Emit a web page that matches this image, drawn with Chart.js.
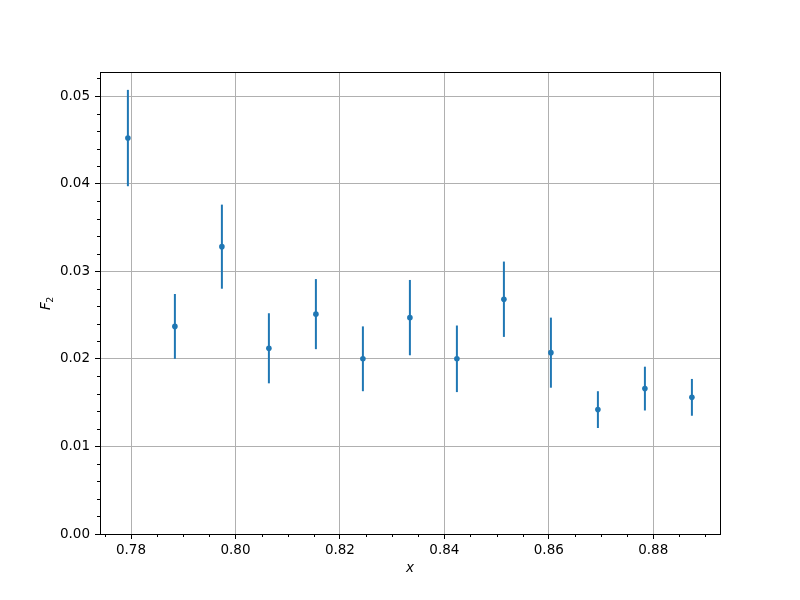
<!DOCTYPE html>
<html>
<head>
<meta charset="utf-8">
<script src="https://cdn.jsdelivr.net/npm/chart.js@4.4.1/dist/chart.umd.min.js"></script>
<style>
  body { margin: 0; background: #fff; }
  #wrap { width: 800px; height: 600px; }
</style>
</head>
<body>
<div id="wrap"><canvas id="f2-chart" width="800" height="600"></canvas></div>
<script>
// F2 vs x with vertical error bars
const xValues = [0.7794, 0.7884, 0.7974, 0.8064, 0.8154, 0.8244, 0.8334, 0.8424, 0.8514, 0.8604, 0.8694, 0.8784, 0.8874];
const f2Values = [0.0452, 0.0237, 0.0328, 0.0212, 0.0251, 0.0200, 0.0247, 0.0200, 0.0268, 0.0207, 0.0142, 0.0166, 0.0156];
const f2Errors = [0.0055, 0.0037, 0.0048, 0.0040, 0.0040, 0.0037, 0.0043, 0.0038, 0.0043, 0.0040, 0.0021, 0.0025, 0.0021];

const xMajorTicks = [0.78, 0.80, 0.82, 0.84, 0.86, 0.88];
const yMajorTicks = [0.00, 0.01, 0.02, 0.03, 0.04, 0.05];
const xMinorStep = 0.005;
const yMinorStep = 0.002;

const X_MIN = 0.77406, X_MAX = 0.89278;
const Y_MIN = 0, Y_MAX = 0.05274;

const BLUE = '#1f77b4';
const FONT = 'DejaVu Sans';

function isMajor(v, majors) {
  return majors.some(m => Math.abs(m - v) < 1e-9);
}

function buildTicks(min, max, step) {
  const out = [];
  const start = Math.ceil(min / step - 1e-9);
  const end = Math.floor(max / step + 1e-9);
  for (let k = start; k <= end; k++) {
    out.push({ value: Math.round(k * step * 1e6) / 1e6 });
  }
  return out;
}

const errorBarPlugin = {
  id: 'errorBars',
  beforeDatasetsDraw(chart) {
    const ctx = chart.ctx;
    const xs = chart.scales.x, ys = chart.scales.y;
    ctx.save();
    ctx.strokeStyle = BLUE;
    ctx.lineWidth = 2;
    xValues.forEach((xv, i) => {
      const px = xs.getPixelForValue(xv);
      ctx.beginPath();
      ctx.moveTo(px, ys.getPixelForValue(f2Values[i] - f2Errors[i]));
      ctx.lineTo(px, ys.getPixelForValue(f2Values[i] + f2Errors[i]));
      ctx.stroke();
    });
    ctx.restore();
  }
};

// minor ticks, full frame, and the F_2 label (subscript drawn by hand)
const framePlugin = {
  id: 'frame',
  afterDraw(chart) {
    const ctx = chart.ctx;
    const a = chart.chartArea;
    const xs = chart.scales.x, ys = chart.scales.y;
    ctx.save();
    ctx.strokeStyle = '#000';
    ctx.lineWidth = 1;
    xs.ticks.forEach(t => {
      if (isMajor(t.value, xMajorTicks)) return;
      const px = Math.round(xs.getPixelForValue(t.value)) + 0.5;
      ctx.beginPath();
      ctx.moveTo(px, a.bottom);
      ctx.lineTo(px, a.bottom + 3);
      ctx.stroke();
    });
    ys.ticks.forEach(t => {
      if (isMajor(t.value, yMajorTicks)) return;
      const py = Math.round(ys.getPixelForValue(t.value)) + 0.5;
      ctx.beginPath();
      ctx.moveTo(a.left, py);
      ctx.lineTo(a.left - 3, py);
      ctx.stroke();
    });
    ctx.strokeRect(Math.round(a.left) + 0.5, Math.round(a.top) + 0.5,
      Math.round(a.right - a.left), Math.round(a.bottom - a.top));

    // y title
    ctx.fillStyle = '#000';
    ctx.translate(50, (a.top + a.bottom) / 2);
    ctx.rotate(-Math.PI / 2);
    ctx.textBaseline = 'alphabetic';
    ctx.textAlign = 'left';
    ctx.font = 'italic 13.5px "' + FONT + '"';
    const wF = ctx.measureText('F').width;
    ctx.font = '9.5px "' + FONT + '"';
    const w2 = ctx.measureText('2').width;
    const x0 = -(wF + w2) / 2;
    ctx.font = 'italic 13.5px "' + FONT + '"';
    ctx.fillText('F', x0, 0);
    ctx.font = '9.5px "' + FONT + '"';
    ctx.fillText('2', x0 + wF - 0.5, 3);
    ctx.restore();
  }
};

new Chart(document.getElementById('f2-chart'), {
  type: 'scatter',
  data: {
    datasets: [{
      label: 'F2',
      data: xValues.map((x, i) => ({ x: x, y: f2Values[i] })),
      backgroundColor: BLUE,
      borderColor: BLUE,
      pointRadius: 2.8,
      pointBorderWidth: 0,
      pointHoverRadius: 2.8
    }]
  },
  options: {
    responsive: false,
    animation: false,
    events: [],
    layout: { padding: { top: 72, right: 80, left: 0, bottom: 0 } },
    plugins: {
      legend: { display: false },
      tooltip: { enabled: false }
    },
    scales: {
      x: {
        type: 'linear',
        min: X_MIN,
        max: X_MAX,
        afterBuildTicks: axis => { axis.ticks = buildTicks(X_MIN, X_MAX, xMinorStep); },
        afterFit: axis => { axis.height = 66; },
        border: { display: false },
        grid: {
          color: c => isMajor(c.tick.value, xMajorTicks) ? '#b0b0b0' : 'rgba(0,0,0,0)',
          lineWidth: 1,
          tickColor: c => isMajor(c.tick.value, xMajorTicks) ? '#000' : 'rgba(0,0,0,0)',
          tickLength: 5
        },
        ticks: {
          autoSkip: false,
          maxRotation: 0,
          padding: 3,
          color: '#000',
          font: { family: FONT, size: 13.5 },
          callback: v => isMajor(v, xMajorTicks) ? v.toFixed(2) : ''
        },
        title: {
          display: true,
          text: 'x',
          color: '#000',
          font: { family: FONT, size: 13.5, style: 'italic' },
          padding: { top: 0, bottom: 23 }
        }
      },
      y: {
        type: 'linear',
        min: Y_MIN,
        max: Y_MAX,
        afterBuildTicks: axis => { axis.ticks = buildTicks(Y_MIN, Y_MAX, yMinorStep); },
        afterFit: axis => { axis.width = 100; },
        border: { display: false },
        grid: {
          color: c => isMajor(c.tick.value, yMajorTicks) ? '#b0b0b0' : 'rgba(0,0,0,0)',
          lineWidth: 1,
          tickColor: c => isMajor(c.tick.value, yMajorTicks) ? '#000' : 'rgba(0,0,0,0)',
          tickLength: 5
        },
        ticks: {
          autoSkip: false,
          padding: 5,
          color: '#000',
          font: { family: FONT, size: 13.5 },
          callback: v => isMajor(v, yMajorTicks) ? v.toFixed(2) : ''
        },
        title: { display: false }
      }
    }
  },
  plugins: [errorBarPlugin, framePlugin]
});
</script>
</body>
</html>
